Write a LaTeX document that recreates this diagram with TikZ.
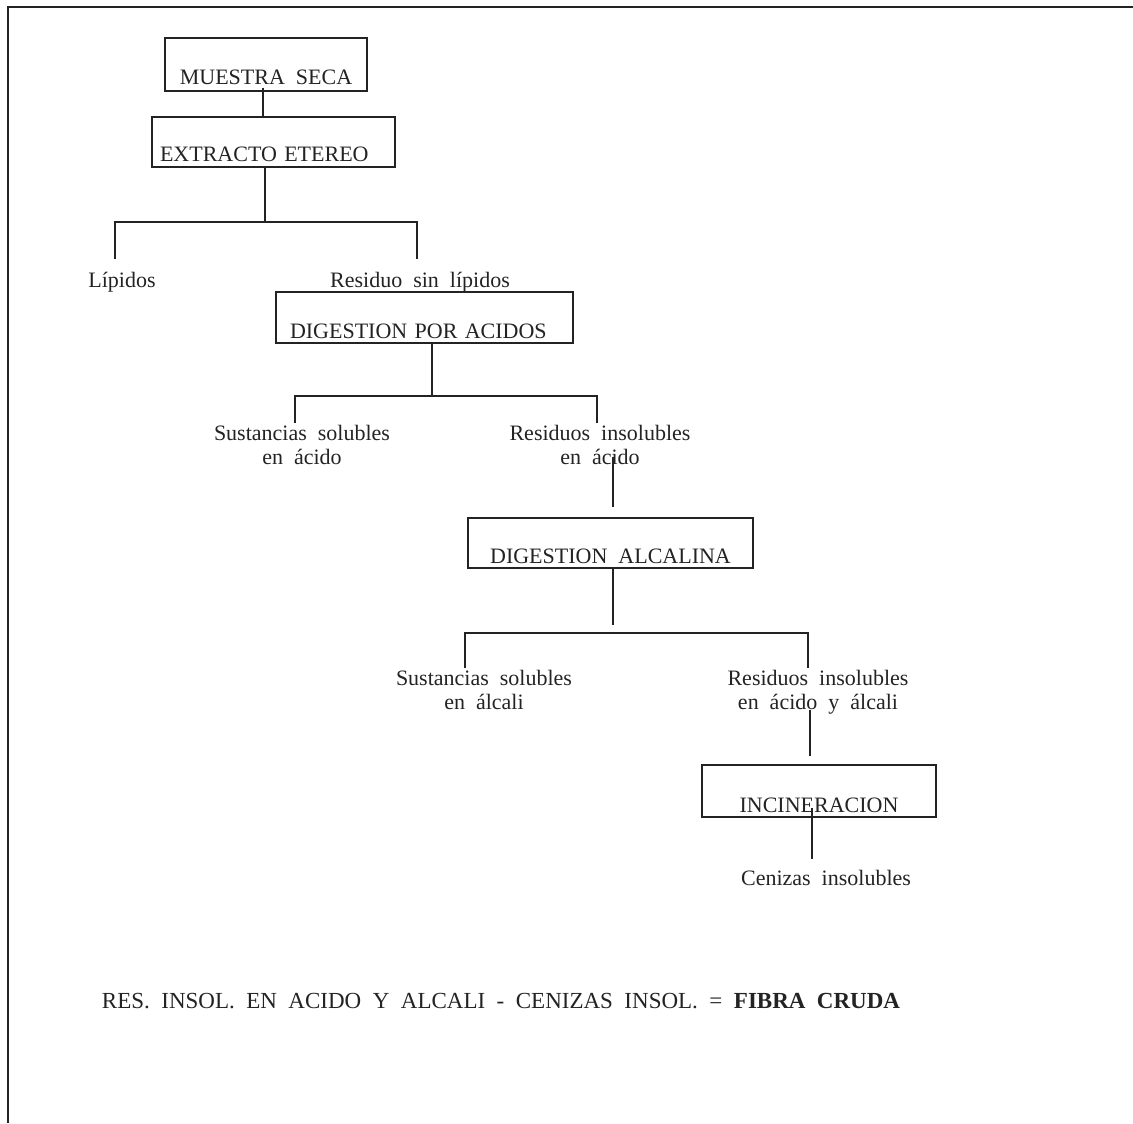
\documentclass[tikz,border=0pt]{standalone}
\usepackage{fontspec}
\setmainfont{Liberation Serif}[WordSpace=2]
\usetikzlibrary{positioning}
\usetikzlibrary{calc}
\definecolor{tinta}{RGB}{35, 35, 35}

\begin{document}
\begin{tikzpicture}[x=0.5pt, y=-0.5pt,
        caja/.style={draw=tinta, line width=0.6pt, inner sep=0pt, text=tinta,
                     font=\fontsize{11}{13}\selectfont},
        rotulo/.style={inner sep=0pt, align=center, text=tinta,
                       font=\fontsize{11}{12}\selectfont},
        linea/.style={draw=tinta, line width=0.6pt}]
    \useasboundingbox (0,0) rectangle (1133,1123);
    \draw[tinta, line width=1pt] (8,1123) -- (8,7) -- (1133,7);

    % cajas
    \node[caja, minimum width=101pt,   text height=23.5pt, text depth=3pt]                                     (muestra)  at (266.0, 64.5) {MUESTRA SECA};
    \node[caja, text width=113.5pt, inner xsep=4pt, align=left, text height=22.5pt, text depth=2.5pt]        (extracto) at (273.5,142.0) {EXTRACTO ETEREO};
    \node[caja, text width=134.5pt, inner xsep=7pt, align=left, text height=23pt,   text depth=2.5pt]        (digacido) at (424.5,317.5) {DIGESTION POR ACIDOS};
    \node[caja, minimum width=142.5pt, text height=22.5pt, text depth=2.5pt]                                   (digalcal) at (610.5,543.0) {DIGESTION ALCALINA};
    \node[caja, minimum width=117pt,   text height=23.5pt, text depth=2.5pt]                                   (incin)    at (819.0,791.0) {INCINERACION};

    % rotulos
    \node[rotulo, anchor=base]  (lipidos)   at (122,287) {Lípidos};
    \node[rotulo, anchor=base]  (residuo)   at (420,287) {Residuo sin lípidos};
    \node[rotulo, anchor=north] (solacido)  at (302,425) {Sustancias solubles\\en ácido};
    \node[rotulo, anchor=north] (insacido)  at (600,425) {Residuos insolubles\\en ácido};
    \node[rotulo, anchor=north] (solalcali) at (484,670) {Sustancias solubles\\en álcali};
    \node[rotulo, anchor=north] (insalcali) at (818,670) {Residuos insolubles\\en ácido y álcali};
    \node[rotulo, anchor=base]  (cenizas)   at (826,885) {Cenizas insolubles};
    \node[rotulo, anchor=base, font=\fontsize{11.5}{12}\selectfont]
                                (fibra)     at (501,1008) {RES. INSOL. EN ACIDO Y ALCALI - CENIZAS INSOL. = \textbf{FIBRA CRUDA}};

    % ramas
    \coordinate (r1) at (265,222);  \coordinate (r1w) at (115,222);  \coordinate (r1e) at (417,222);
    \coordinate (r2) at (432,396);  \coordinate (r2w) at (295,396);  \coordinate (r2e) at (597,396);
    \coordinate (r3) at (613,633);  \coordinate (r3w) at (465,633);  \coordinate (r3e) at (808,633);
    \coordinate (e2) at (613,457);  \coordinate (e3) at (810,710);   \coordinate (e4) at (812,808);

    \draw[linea] ([xshift=-1.5pt,yshift=2pt]muestra.south) -- ([xshift=-1.5pt]muestra.south |- extracto.north);
    \draw[linea] (r1 |- extracto.south) -- (r1);
    \draw[linea] ([yshift=6pt]r1w |- lipidos.north) -- (r1w) -- (r1e) -- ([yshift=6pt]r1e |- residuo.north);
    \draw[linea] (r2 |- digacido.south) -- (r2);
    \draw[linea] ([yshift=1pt]r2w |- solacido.north) -- (r2w) -- (r2e) -- ([yshift=1pt]r2e |- insacido.north);
    \draw[linea] (e2) -- ([yshift=5pt]e2 |- digalcal.north);
    \draw[linea] (r3 |- digalcal.south) -- ([yshift=4pt]r3);
    \draw[linea] ([yshift=1pt]r3w |- solalcali.north) -- (r3w) -- (r3e) -- ([yshift=1pt]r3e |- insalcali.north);
    \draw[linea] (e3) -- ([yshift=4pt]e3 |- incin.north);
    \draw[linea] (e4) -- ([yshift=5pt]e4 |- cenizas.north);
\end{tikzpicture}
\end{document}
